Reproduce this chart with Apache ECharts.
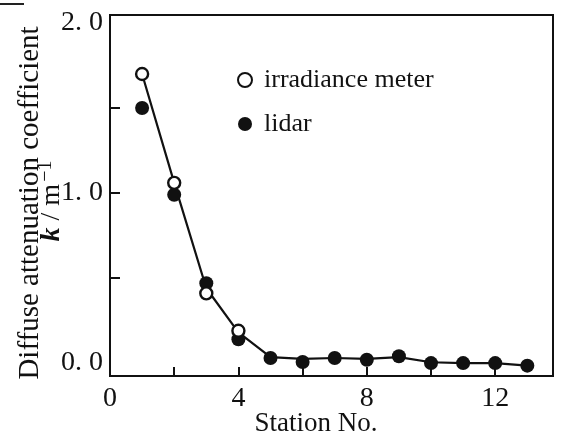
<!DOCTYPE html>
<html><head><meta charset="utf-8">
<script src="https://cdn.jsdelivr.net/npm/echarts@6/dist/echarts.min.js"></script>
<style>html,body{margin:0;padding:0;background:#fff}#c{width:563px;height:436px}</style>
</head><body><div id="c"></div>
<script>
const stations = [1,2,3,4,5,6,7,8,9,10,11,12,13];
const irradiance = [1.70,1.06,0.41,0.19];
const lidar = [1.50,0.99,0.47,0.14,0.03,0.006,0.03,0.02,0.04,0.0,0.0,0.0,-0.015];
const fitLine = [1.70,1.06,0.44,0.18,0.035,0.025,0.03,0.025,0.035,0.005,0.0,0.0,-0.015];
const xTickLabels = [0,4,8,12];
const xTicks = [2,4,6,8,10,12];
const yTickLabels = [0,1,2];
const yTicks = [0.5,1,1.5];
const xTitle = 'Station No.';
const yTitle = 'Diffuse attenuation coefficient';

const font = '"Liberation Serif","Times New Roman",serif';
const chart = echarts.init(document.getElementById('c'), null, {renderer:'canvas'});
chart.setOption({
  animation:false,
  backgroundColor:'#fff',
  grid:{left:110,right:10,top:15,bottom:60,show:true,borderColor:'#111',borderWidth:2,backgroundColor:'transparent',
        outerBoundsMode:'none',containLabel:false},
  legend:{
    orient:'vertical',left:232,top:62,itemWidth:14,itemHeight:14,itemGap:18,
    data:['irradiance meter','lidar'],
    textStyle:{fontFamily:font,fontSize:26,color:'#111',padding:[0,0,0,7]}
  },
  xAxis:{
    type:'value',min:0,max:13.8,
    axisLine:{show:true,onZero:false,lineStyle:{color:'#111',width:2}},
    axisTick:{show:true,inside:true,length:9,lineStyle:{color:'#111',width:2},customValues:xTicks},
    axisLabel:{fontFamily:font,fontSize:28,color:'#111',margin:9,customValues:xTickLabels},
    splitLine:{show:false}
  },
  yAxis:{
    type:'value',min:-0.076,max:2.047,
    axisLine:{show:true,lineStyle:{color:'#111',width:2}},
    axisTick:{show:true,inside:true,length:10,lineStyle:{color:'#111',width:2},customValues:yTicks},
    axisLabel:{fontFamily:font,fontSize:28,color:'#111',margin:7,customValues:yTickLabels,
      formatter:v=>v.toFixed(1).replace('.', '. ')},
    splitLine:{show:false}
  },
  graphic:[
    {type:'text',x:316,y:424,
     style:{text:xTitle,font:'27px '+font,fill:'#111',align:'center',verticalAlign:'middle'}},
    {type:'text',x:30,y:203,rotation:Math.PI/2,
     style:{text:yTitle,font:'29px '+font,fill:'#111',align:'center',verticalAlign:'middle'}},
    {type:'text',x:52,y:201,rotation:Math.PI/2,
     style:{text:'{k|k} / m{s|−1}',font:'28px '+font,fill:'#111',align:'center',verticalAlign:'middle',
       rich:{k:{fontStyle:'italic',fontWeight:'bold',fontSize:28,fontFamily:'Liberation Serif'},
             s:{fontSize:20,fontFamily:'Liberation Serif',padding:[0,0,12,2]}}}},
    {type:'line',shape:{x1:0,y1:4,x2:24,y2:4},style:{stroke:'#222',lineWidth:2}}
  ],
  series:[
    {name:'fit',type:'line',data:stations.map((s,i)=>[s,fitLine[i]]),symbol:'none',
     lineStyle:{color:'#111',width:2.2},z:1},
    {name:'lidar',type:'scatter',data:stations.map((s,i)=>[s,lidar[i]]),symbol:'circle',symbolSize:14,
     itemStyle:{color:'#111',opacity:1},z:2},
    {name:'irradiance meter',type:'scatter',data:irradiance.map((v,i)=>[stations[i],v]),symbol:'circle',symbolSize:12,
     itemStyle:{color:'#fff',borderColor:'#111',borderWidth:2.4,opacity:1},z:3}
  ]
});
</script></body></html>
